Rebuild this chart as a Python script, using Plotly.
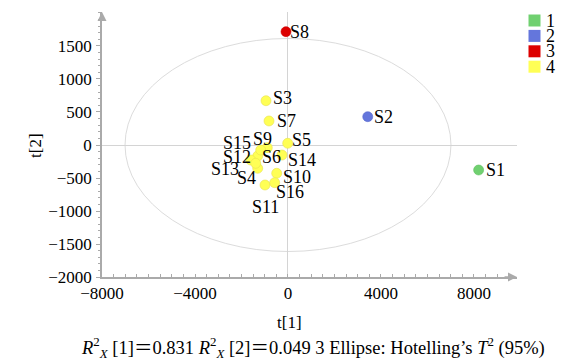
import plotly.graph_objects as go

# ---- data ----
samples = ["S1", "S2", "S3", "S4", "S5", "S6", "S7", "S8", "S9", "S10",
           "S11", "S12", "S13", "S14", "S15", "S16"]
t1 = [8200, 3430, -946, -1303, -13, -1303, -817, -86, -890, -486,
      -989, -1604, -1389, -258, -1174, -572]
t2 = [-379, 429, 671, -353, 26, -167, 364, 1717, -41, -429,
      -606, -227, -277, -152, -76, -571]
groups = [1, 2, 4, 4, 4, 4, 4, 3, 4, 4, 4, 4, 4, 4, 4, 4]
group_names = ["1", "2", "3", "4"]
x_ticks = [-8000, -4000, 0, 4000, 8000]
y_ticks = [-2000, -1500, -1000, -500, 0, 500, 1000, 1500]
ellipse_a = 7010   # Hotelling's T2 (95%) ellipse semi-axis, t[1]
ellipse_b = 1614   # semi-axis, t[2]

# ---- style ----
colors = {1: "#70d070", 2: "#6476dc", 3: "#dd0000", 4: "#ffff55"}
edge = {1: "#60c060", 2: "#5566cc", 3: "#cc0000", 4: "#e8e050"}
# label offsets in screen pixels (dx right, dy down)
label_off = {"S1": (17, 0), "S2": (16, 0), "S3": (16, -3), "S4": (-11, 10),
             "S5": (14, -3), "S6": (14, 1), "S7": (17, 0), "S8": (14, 0),
             "S9": (-5, -9), "S10": (20, 4), "S11": (0, 22), "S12": (-14, -3),
             "S13": (-31, 6), "S14": (20, 5), "S15": (-24, -7), "S16": (15, 9)}
FONT = "Liberation Serif, Times New Roman, serif"
W, H = 576, 359
ML, MR, MT, MB = 102, 59, 12, 82
xr = [-8000, 9850]
yr = [-2000, 2015]
axis_col = "#aaaaaa"

fig = go.Figure()

fig.add_shape(type="circle", xref="x", yref="y",
              x0=-ellipse_a, x1=ellipse_a, y0=-ellipse_b, y1=ellipse_b,
              line=dict(color="#dcdcdc", width=1), layer="below")

fig.add_trace(go.Scatter(
    x=t1, y=t2, mode="markers",
    marker=dict(size=10, color=[colors[g] for g in groups],
                line=dict(width=0.6, color=[edge[g] for g in groups])),
    showlegend=False, cliponaxis=False, hoverinfo="text", text=samples))

for s, x, y in zip(samples, t1, t2):
    dx, dy = label_off[s]
    fig.add_annotation(x=x, y=y, xref="x", yref="y", text=s, showarrow=False,
                       xshift=dx, yshift=-dy, xanchor="center", yanchor="middle",
                       font=dict(family=FONT, size=18, color="black"))

# axis arrows
fig.add_annotation(x=xr[1], y=yr[0], ax=xr[1] - 600, ay=yr[0], xref="x", yref="y",
                   axref="x", ayref="y", showarrow=True, arrowhead=2, arrowsize=1.2,
                   arrowwidth=1.5, arrowcolor=axis_col, text="")
fig.add_annotation(x=xr[0], y=yr[1], ax=xr[0], ay=yr[1] - 150, xref="x", yref="y",
                   axref="x", ayref="y", showarrow=True, arrowhead=2, arrowsize=1.2,
                   arrowwidth=1.5, arrowcolor=axis_col, text="")

pw = W - ML - MR
ph = H - MT - MB
def px(xp):
    return (xp - ML) / pw
def py(yp):
    return (H - MB - yp) / ph

# manual legend
for i, name in enumerate(group_names):
    cy = 20.5 + i * 15.4
    fig.add_shape(type="rect", xref="paper", yref="paper",
                  x0=px(528.5), x1=px(540.5), y0=py(cy + 6), y1=py(cy - 6),
                  fillcolor=colors[i + 1], line=dict(width=0))
    fig.add_annotation(xref="paper", yref="paper", x=px(544), y=py(cy), text=name,
                       showarrow=False, xanchor="left", yanchor="middle",
                       font=dict(family=FONT, size=18, color="black"))

# axis titles
fig.add_annotation(xref="paper", yref="paper", x=px(289), y=py(322), text="t[1]",
                   showarrow=False, xanchor="center", yanchor="middle",
                   font=dict(family=FONT, size=17, color="black"))
fig.add_annotation(xref="paper", yref="paper", x=px(35), y=py(146), text="t[2]",
                   showarrow=False, xanchor="center", yanchor="middle", textangle=-90,
                   font=dict(family=FONT, size=17, color="black"))
fig.add_annotation(xref="paper", yref="paper", x=px(313), y=py(347),
                   text="<i>R</i><sup>2</sup><sub><i>X</i></sub> [1]＝0.831 "
                        "<i>R</i><sup>2</sup><sub><i>X</i></sub> [2]＝0.049 3 Ellipse: "
                        "Hotelling’s <i>T</i><sup>2</sup> (95%)",
                   showarrow=False, xanchor="center", yanchor="middle",
                   font=dict(family="Liberation Serif, Noto Sans CJK SC", size=18.5,
                             color="black"))

tickfont = dict(family=FONT, size=17, color="black")
fig.update_layout(
    template="none",
    width=W, height=H, margin=dict(l=ML, r=MR, t=MT, b=MB, autoexpand=False),
    paper_bgcolor="white", plot_bgcolor="white",
    font=dict(family=FONT, size=17, color="black"),
    xaxis=dict(range=xr, tickvals=x_ticks, showgrid=False,
               zeroline=True, zerolinecolor="#d4d4d4", zerolinewidth=1,
               showline=True, linecolor=axis_col, linewidth=1.5,
               ticks="inside", ticklen=3, tickcolor=axis_col,
               minor=dict(dtick=500, ticks="inside", ticklen=3, tickcolor=axis_col),
               tickfont=tickfont, ticklabelstandoff=0),
    yaxis=dict(range=yr, tickvals=y_ticks, showgrid=False,
               zeroline=True, zerolinecolor="#d4d4d4", zerolinewidth=1,
               showline=True, linecolor=axis_col, linewidth=1.5,
               ticks="outside", ticklen=4, tickcolor=axis_col,
               minor=dict(dtick=100, ticks="outside", ticklen=2, tickcolor=axis_col),
               tickfont=tickfont, ticklabelstandoff=1),
)

fig.write_html("out.html", config={"displayModeBar": False},
               post_script="document.body.style.margin='0';"
                           "document.body.style.overflow='hidden';")
